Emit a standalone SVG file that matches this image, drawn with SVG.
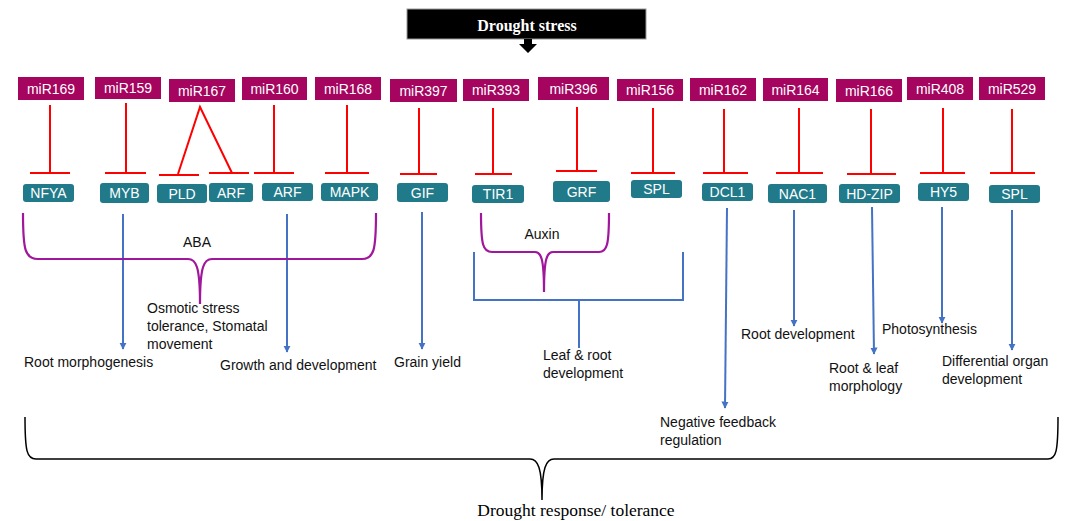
<svg xmlns="http://www.w3.org/2000/svg" width="1068" height="521" viewBox="0 0 1068 521">
<defs>
<style>
.mir rect{fill:#A5045F}
.mir text{fill:#fff;font-family:"Liberation Sans",Arial,sans-serif;font-size:14px;text-anchor:middle}
.tg rect{fill:#217A8A}
.tg text{fill:#fff;font-family:"Liberation Sans",Arial,sans-serif;font-size:14px;text-anchor:middle}
.inh{stroke:#FF0000;stroke-width:2;fill:none}
.act{stroke:#4472C4;stroke-width:2;fill:none;marker-end:url(#ah)}
.brk{stroke:#A0169C;stroke-width:2.2;fill:none}
.lbl{font-family:"Liberation Sans",Arial,sans-serif;font-size:14px;fill:#111}
</style>
<marker id="ah" viewBox="0 0 10 10" refX="9" refY="5" markerWidth="3.6" markerHeight="3.6" orient="auto" markerUnits="strokeWidth">
<path d="M0,0 L10,5 L0,10 z" fill="#4472C4"/>
</marker>
</defs>
<rect width="1068" height="521" fill="#fff"/>

<g id="drought-stress">
<rect x="407" y="9" width="239" height="30" fill="#000" stroke="#999" stroke-width="1"/>
<text x="527" y="31" font-family="Liberation Serif,'Times New Roman',serif" font-size="16" font-weight="bold" fill="#fff" text-anchor="middle">Drought stress</text>
<polygon points="524,39 532,39 532,44 537,44 528,53 519,44 524,44" fill="#000"/>
</g>

<g id="mirnas" class="mir">
<g id="miR169"><rect x="18" y="77" width="66" height="23"/><text x="51" y="93.5">miR169</text></g>
<g id="miR159"><rect x="95" y="77" width="66" height="22"/><text x="128" y="93">miR159</text></g>
<g id="miR167"><rect x="169" y="79" width="66" height="23"/><text x="202" y="95.5">miR167</text></g>
<g id="miR160"><rect x="242" y="77" width="65" height="23"/><text x="274.5" y="93.5">miR160</text></g>
<g id="miR168"><rect x="315" y="77" width="66" height="23"/><text x="348" y="93.5">miR168</text></g>
<g id="miR397"><rect x="390" y="79" width="67" height="23"/><text x="423.5" y="95.5">miR397</text></g>
<g id="miR393"><rect x="463" y="79" width="66" height="22"/><text x="496" y="95">miR393</text></g>
<g id="miR396"><rect x="538" y="77" width="71" height="23"/><text x="573.5" y="93.5">miR396</text></g>
<g id="miR156"><rect x="617" y="79" width="66" height="22"/><text x="650" y="95">miR156</text></g>
<g id="miR162"><rect x="690" y="78" width="66" height="23"/><text x="723" y="94.5">miR162</text></g>
<g id="miR164"><rect x="763" y="78" width="65" height="23"/><text x="795.5" y="94.5">miR164</text></g>
<g id="miR166"><rect x="836" y="79" width="66" height="23"/><text x="869" y="95.5">miR166</text></g>
<g id="miR408"><rect x="907" y="77" width="66" height="23"/><text x="940" y="93.5">miR408</text></g>
<g id="miR529"><rect x="979" y="77" width="66" height="23"/><text x="1012" y="93.5">miR529</text></g>
</g>

<g id="targets" class="tg">
<g id="NFYA"><rect x="23" y="184" width="51" height="18" rx="3"/><text x="48.5" y="198">NFYA</text></g>
<g id="MYB"><rect x="100" y="183" width="49" height="20" rx="3"/><text x="124.5" y="198">MYB</text></g>
<g id="PLD"><rect x="157" y="184" width="50" height="19" rx="3"/><text x="182" y="198.5">PLD</text></g>
<g id="ARF1"><rect x="209" y="183" width="44" height="19" rx="3"/><text x="231" y="197.5">ARF</text></g>
<g id="ARF2"><rect x="262" y="183" width="51" height="18" rx="3"/><text x="287.5" y="197">ARF</text></g>
<g id="MAPK"><rect x="321" y="183" width="57" height="18" rx="3"/><text x="349.5" y="197">MAPK</text></g>
<g id="GIF"><rect x="397" y="183" width="51" height="19" rx="3"/><text x="422.5" y="197.5">GIF</text></g>
<g id="TIR1"><rect x="472" y="185" width="52" height="18" rx="3"/><text x="498" y="199">TIR1</text></g>
<g id="GRF"><rect x="553" y="181" width="57" height="21" rx="3"/><text x="581.5" y="196.5">GRF</text></g>
<g id="SPL1"><rect x="631" y="180" width="51" height="18" rx="3"/><text x="656.5" y="194">SPL</text></g>
<g id="DCL1"><rect x="702" y="183" width="51" height="18" rx="3"/><text x="727.5" y="197">DCL1</text></g>
<g id="NAC1"><rect x="768" y="184" width="59" height="19" rx="3"/><text x="797.5" y="198.5">NAC1</text></g>
<g id="HD-ZIP"><rect x="839" y="184" width="61" height="19" rx="3"/><text x="869.5" y="198.5">HD-ZIP</text></g>
<g id="HY5"><rect x="918" y="183" width="51" height="18" rx="3"/><text x="943.5" y="197">HY5</text></g>
<g id="SPL2"><rect x="989" y="185" width="51" height="18" rx="3"/><text x="1014.5" y="199">SPL</text></g>
</g>

<g id="connectors">
<g id="inhibitions" class="inh">
<path d="M50,105 V173 M30,173 H70"/>
<path d="M126,103 V173 M105,173 H146"/>
<path d="M178,174 L200,107 L232,173 M159,175 H199 M209,173 H249"/>
<path d="M274,105 V173 M254,173 H294"/>
<path d="M347,105 V173 M325,173 H369"/>
<path d="M419,108 V174 M400,174 H437"/>
<path d="M493,108 V174 M475,174 H512"/>
<path d="M577,107 V171 M556,171 H597"/>
<path d="M653,108 V173 M631,173 H675"/>
<path d="M724,109 V173 M703,173 H748"/>
<path d="M799,108 V173 M776,173 H823"/>
<path d="M871,109 V174 M847,174 H896"/>
<path d="M943,108 V173 M920,173 H965"/>
<path d="M1012,109 V173 M990,173 H1035"/>
</g>
<g id="activations">
<path class="act" d="M123,214 V349"/>
<path class="act" d="M287,214 V352"/>
<path class="act" d="M422,212 V349"/>
<path class="act" d="M727,208 L725,408"/>
<path class="act" d="M794,210 V326"/>
<path class="act" d="M872,207 L874,354"/>
<path class="act" d="M942,207 V323"/>
<path class="act" d="M1012,210 V350"/>
</g>
<g id="brackets">
<path class="brk" d="M23,213 C23,250 25,259 38,259 L188,259 C196,259 200,266 200,304 C200,266 204,259 212,259 L362,259 C374,259 376,250 376,213"/>
<path class="brk" d="M481,213 C481,245 483,252 492,252 L535,252 C541,252 544,258 544,292 C544,258 547,252 553,252 L599,252 C607,252 609,245 609,213"/>
<path d="M474,252 V300 H683 V252 M579,300 V348" stroke="#4472C4" stroke-width="2" fill="none"/>
<path d="M25,417 C25,452 27,459 36,459 L530,459 C538,459 542,468 542,500 C542,468 546,459 554,459 L1048,459 C1056,459 1058,452 1058,417" stroke="#000" stroke-width="1.5" fill="none"/>
</g>
</g>

<g id="labels" class="lbl">
<text x="197" y="247" text-anchor="middle">ABA</text>
<text x="542" y="239" text-anchor="middle">Auxin</text>
<text x="147" y="313">Osmotic stress</text>
<text x="147" y="331">tolerance, Stomatal</text>
<text x="147" y="349">movement</text>
<text x="24" y="367">Root morphogenesis</text>
<text x="220" y="370">Growth and development</text>
<text x="394" y="367">Grain yield</text>
<text x="543" y="360">Leaf &amp; root</text>
<text x="543" y="378">development</text>
<text x="741" y="339">Root development</text>
<text x="829" y="373">Root &amp; leaf</text>
<text x="829" y="391">morphology</text>
<text x="882" y="334">Photosynthesis</text>
<text x="942" y="366">Differential organ</text>
<text x="942" y="384">development</text>
<text x="660" y="427">Negative feedback</text>
<text x="660" y="445">regulation</text>
</g>
<text x="576" y="516" font-family="Liberation Serif,'Times New Roman',serif" font-size="17.5" fill="#000" text-anchor="middle">Drought response/ tolerance</text>
</svg>
